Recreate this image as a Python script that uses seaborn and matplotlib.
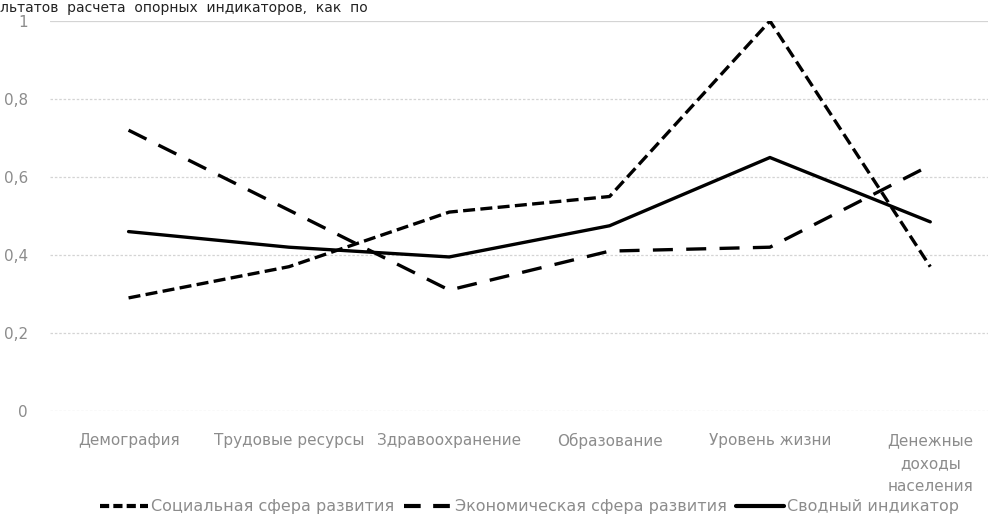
import matplotlib
matplotlib.use("Agg")
import matplotlib.pyplot as plt
from matplotlib.lines import Line2D
import seaborn as sns
import pandas as pd

categories = ["Демография", "Трудовые ресурсы", "Здравоохранение",
              "Образование", "Уровень жизни", "Денежные\nдоходы\nнаселения"]
social = [0.29, 0.37, 0.51, 0.55, 1.00, 0.37]
economic = [0.72, 0.515, 0.31, 0.41, 0.42, 0.63]
summary = [0.46, 0.42, 0.395, 0.475, 0.65, 0.485]
series_names = ["Социальная сфера развития", "Экономическая сфера развития", "Сводный индикатор"]
y_ticks = [0, 0.2, 0.4, 0.6, 0.8, 1.0]
y_labels = ["0", "0,2", "0,4", "0,6", "0,8", "1"]

sns.set_style("white")
plt.rcParams["font.family"] = ["DejaVu Sans"]

df = pd.DataFrame({
    "cat": categories * 3,
    "val": social + economic + summary,
    "series": [series_names[0]] * 6 + [series_names[1]] * 6 + [series_names[2]] * 6,
})

fig = plt.figure(figsize=(9.88, 5.18), dpi=100)
ax = fig.add_axes([50 / 988, 1 - 411 / 518, 938 / 988, 390 / 518])

social_dash = (3.6, 1.6)
econ_dash = (6.0, 4.0)
dashes = {series_names[0]: social_dash, series_names[1]: econ_dash, series_names[2]: ""}
sns.lineplot(data=df, x="cat", y="val", style="series", dashes=dashes, color="black",
             linewidth=2.4, sort=False, legend=False, ax=ax)

ax.set_xlim(-0.49, 5.36)
ax.set_ylim(0, 1)
ax.set_yticks(y_ticks)
ax.set_yticklabels(y_labels)
for y in y_ticks:
    ax.axhline(y, color="#d4d4d4", lw=0.9, ls=(0, (2, 1.5)) if y < 1 else "-", zorder=0)
for s in ax.spines.values():
    s.set_visible(False)
ax.tick_params(axis="y", length=0, pad=16, labelsize=11, labelcolor="#8c8c8c")
ax.tick_params(axis="x", length=0, pad=16, labelsize=11, labelcolor="#8c8c8c")
for lab in ax.get_xticklabels():
    lab.set_linespacing(1.65)
    lab.set_verticalalignment("top")
ax.set_xlabel("")
ax.set_ylabel("")

handles = [
    Line2D([], [], color="black", lw=3, ls=(0, (2.2, 1.0))),
    Line2D([], [], color="black", lw=3, ls=(0, (4.0, 3.0))),
    Line2D([], [], color="black", lw=3, ls="-"),
]
fig.legend(handles, series_names, loc="center", bbox_to_anchor=(0.536, 0.022), ncol=3,
           frameon=False, fontsize=11.5, labelcolor="#8c8c8c", handlelength=3.0,
           handletextpad=0.2, columnspacing=0.6)

fig.text(0.0, 0.999, "льтатов  расчета  опорных  индикаторов,  как  по", fontsize=10,
         color="#222222", va="top", ha="left")

fig.savefig("out.png", dpi=100)
